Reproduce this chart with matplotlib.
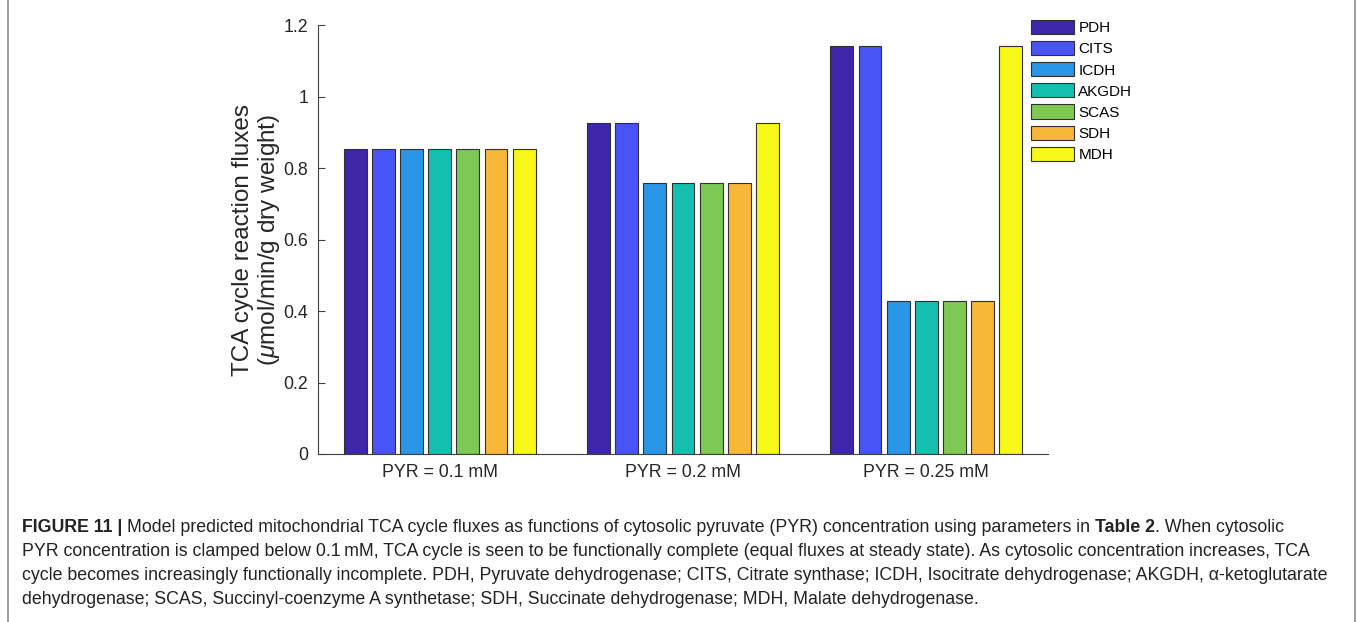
import numpy as np
import matplotlib
matplotlib.use("Agg")
import matplotlib.pyplot as plt
from matplotlib.lines import Line2D

plt.rcParams['font.family'] = ['Liberation Sans', 'DejaVu Sans']
plt.rcParams['mathtext.fontset'] = 'custom'
plt.rcParams['mathtext.it'] = 'Liberation Sans:italic'
plt.rcParams['mathtext.rm'] = 'Liberation Sans'

# data
groups = ['PYR = 0.1 mM', 'PYR = 0.2 mM', 'PYR = 0.25 mM']
enzymes = ['PDH', 'CITS', 'ICDH', 'AKGDH', 'SCAS', 'SDH', 'MDH']
pdh = [0.854, 0.928, 1.143]
cits = [0.854, 0.928, 1.143]
icdh = [0.853, 0.758, 0.429]
akgdh = [0.853, 0.758, 0.429]
scas = [0.853, 0.758, 0.429]
sdh = [0.853, 0.758, 0.429]
mdh = [0.853, 0.928, 1.143]
colors = ['#3e26a8', '#4854f5', '#2a96e8', '#15bfb0', '#7dc954', '#f9b73a', '#f7f719']

W, H = 1357, 622
fig = plt.figure(figsize=(W / 100, H / 100), dpi=100)
ax = fig.add_axes([318 / W, 1 - 454 / H, (1048 - 318) / W, (454 - 25.5) / H])

x = np.arange(1, len(groups) + 1)
stride = 0.1157
width = 0.094
series = [pdh, cits, icdh, akgdh, scas, sdh, mdh]
handles = []
for i, (vals, c, name) in enumerate(zip(series, colors, enzymes)):
    b = ax.bar(x + (i - 3) * stride, vals, width, color=c, edgecolor='#303030',
               linewidth=0.8, label=name, zorder=2)
    handles.append(b)

ax.set_xlim(0.5, 3.5)
ax.set_ylim(0, 1.2)
ax.set_yticks([0, 0.2, 0.4, 0.6, 0.8, 1.0, 1.2])
ax.set_yticklabels(['0', '0.2', '0.4', '0.6', '0.8', '1', '1.2'])
ax.set_xticks(x)
ax.set_xticklabels(groups)
ax.tick_params(direction='in', length=5, width=0.8, colors='#404040',
               labelcolor='#262626', labelsize=12.8, pad=7)
for s in ['top', 'right']:
    ax.spines[s].set_visible(False)
for s in ['left', 'bottom']:
    ax.spines[s].set_color('#404040')
    ax.spines[s].set_linewidth(0.8)
ax.set_ylabel('TCA cycle reaction fluxes\n($\\mu$mol/min/g dry weight)',
              fontsize=17.5, color='#262626', labelpad=1, linespacing=1.1)

fig.legend(handles=handles, loc='upper left', bbox_to_anchor=(1031 / W, 1 - 20 / H),
           frameon=False, fontsize=11, handlelength=2.8, handleheight=1.05,
           labelspacing=0.38, handletextpad=0.3, borderpad=0, borderaxespad=0)

# caption with bold pieces
renderer = fig.canvas.get_renderer()
cap_size = 12.75
cap_color = '#222222'


def text_width(s, weight):
    t = fig.text(0, 0, s, fontsize=cap_size, weight=weight)
    w = t.get_window_extent(renderer).width
    t.remove()
    return w


space_w = text_width('a a', 'normal') - text_width('aa', 'normal')

caption = [
    [('FIGURE 11 |', 'bold', 0),
     ('Model predicted mitochondrial TCA cycle fluxes as functions of cytosolic pyruvate (PYR) concentration using parameters in', 'normal', 1),
     ('Table 2', 'bold', 1), ('. When cytosolic', 'normal', 0)],
    [('PYR concentration is clamped below 0.1\u2009mM, TCA cycle is seen to be functionally complete (equal fluxes at steady state). As cytosolic concentration increases, TCA', 'normal', 0)],
    [('cycle becomes increasingly functionally incomplete. PDH, Pyruvate dehydrogenase; CITS, Citrate synthase; ICDH, Isocitrate dehydrogenase; AKGDH, \u03b1-ketoglutarate', 'normal', 0)],
    [('dehydrogenase; SCAS, Succinyl-coenzyme A synthetase; SDH, Succinate dehydrogenase; MDH, Malate dehydrogenase.', 'normal', 0)],
]
line_y = [527, 552, 576, 600]
for line, yy in zip(caption, line_y):
    xpos = 22
    for s, weight, gap in line:
        xpos += gap * space_w
        t = fig.text(xpos / W, 1 - yy / H, s, fontsize=cap_size, weight=weight,
                     color=cap_color, va='center', ha='left')
        xpos += t.get_window_extent(renderer).width

# side lines of the figure panel frame
frame_kw = dict(color='#8c8c8c', linewidth=1.2, transform=fig.transFigure)
fig.add_artist(Line2D([8 / W, 8 / W], [0, 1], **frame_kw))
fig.add_artist(Line2D([1355 / W, 1355 / W], [0, 1], **frame_kw))

fig.savefig('out.png', dpi=100)
